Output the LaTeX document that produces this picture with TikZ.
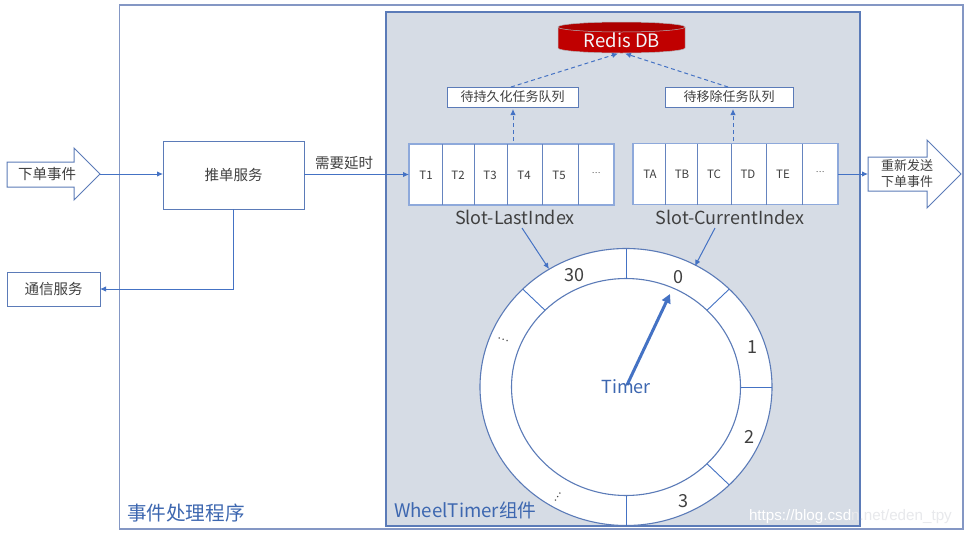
\documentclass[tikz,border=0pt]{standalone}
\usepackage{fontspec}
\setmainfont{Noto Sans CJK SC}
\newfontfamily\markfont{Liberation Sans}
\usetikzlibrary{arrows.meta,shapes.geometric}
\definecolor{frameblue}{HTML}{8497C4}
\definecolor{panelfill}{HTML}{D6DCE5}
\definecolor{edgeblue}{HTML}{5B7BB8}
\definecolor{linkblue}{HTML}{4472C4}
\definecolor{cellblue}{HTML}{8EA9DB}
\definecolor{inktext}{HTML}{404040}
\definecolor{redisred}{HTML}{C00000}
\definecolor{markgrey}{HTML}{E8E9EC}
\tikzset{
  x=1pt,y=-1pt,
  every node/.style={inner sep=0pt,outer sep=0pt,text=inktext},
  box/.style={draw=edgeblue,line width=1pt,fill=white,align=center,font=\fontsize{14.5}{17}\selectfont},
  queuebox/.style={box,font=\fontsize{13}{15}\selectfont,minimum height=20pt},
  slotrow/.style={draw=cellblue,line width=1.3pt,fill=white,minimum height=61pt,minimum width=205pt},
  cellrule/.style={draw=edgeblue!80!cellblue,line width=0.9pt},
  celltext/.style={font=\fontsize{11.5}{13}\selectfont},
  dotstext/.style={font=\fontsize{8}{10}\selectfont},
  link/.style={draw=linkblue,line width=1pt,-{Latex[length=6pt,width=5.5pt]}},
  dashlink/.style={link,dashed,dash pattern=on 4pt off 3pt},
  wheel/.style={draw=edgeblue,line width=1.1pt,fill=white},
  wheelrule/.style={draw=linkblue,line width=0.9pt},
  wheeltext/.style={font=\fontsize{18}{20}\selectfont},
  slotlabel/.style={font=\fontsize{18}{20}\selectfont},
  bluelabel/.style={text=linkblue!90!black},
}
\begin{document}
\begin{tikzpicture}
\useasboundingbox (0,0) rectangle (969,536);
\fill[white] (0,0) rectangle (969,536);
% frames
\draw[frameblue,line width=1.3pt] (119.5,5) rectangle (963,529);
\draw[edgeblue,line width=1.1pt,fill=panelfill] (386,12) rectangle (860,526);
\node[bluelabel,font=\fontsize{19.6}{22}\selectfont,anchor=west] (progLabel) at (127,513) {事件处理程序};
\node[bluelabel,font=\fontsize{18.7}{22}\selectfont,anchor=west] (compLabel) at (394,510) {WheelTimer组件};
% left arrow shape
\draw[box] (7,162) -- (74,162) -- (74,148) -- (100,174) -- (74,200) -- (74,187) -- (7,187) -- cycle;
\coordinate (orderTip) at (100,174);
\node[font=\fontsize{14.5}{17}\selectfont] (orderText) at (47,174) {下单事件};
\node[box,minimum width=141pt,minimum height=68pt] (push) at (233.5,175) {推单服务};
\node[box,minimum width=93pt,minimum height=34pt] (notify) at (53.5,289) {通信服务};
\draw[link] (orderTip) -- (orderTip -| push.west);
\draw[link] (push.south) |- (notify.east);
\node[font=\fontsize{14.5}{17}\selectfont] (needDelay) at (344,163) {需要延时};
% slot row 1
\node[slotrow] (rowA) at (511.5,174.5) {};
\foreach \xx in {442,474,507,542,578} \draw[cellrule] (\xx,144) -- (\xx,205);
\foreach \xx/\tt in {426/T1,458/T2,490/T3,524/T4,559/T5} \node[celltext] (cell\tt) at (\xx,175) {\tt};
\node[dotstext] (cellDotsA) at (596,173) {…};
\draw[link] (push.east |- rowA.west) -- (rowA.west);
% slot row 2
\node[slotrow] (rowB) at (735.5,174) {};
\foreach \xx in {665,697,731,766,802} \draw[cellrule] (\xx,143.5) -- (\xx,204.5);
\foreach \xx/\tt in {650/TA,682/TB,714/TC,748/TD,783/TE} \node[celltext] (cell\tt) at (\xx,174) {\tt};
\node[dotstext] (cellDotsB) at (820,172) {…};
\node[slotlabel] (lastLabel) at (515,217) {Slot-LastIndex};
\node[slotlabel] (curLabel) at (730,217) {Slot-CurrentIndex};
% right arrow shape
\draw[box] (868,157) -- (927,157) -- (927,140) -- (961,174) -- (927,208) -- (927,191) -- (868,191) -- cycle;
\coordinate (resendIn) at (868,174);
\node[font=\fontsize{13}{16}\selectfont,align=center] (resendText) at (907,174) {重新发送\\下单事件};
\draw[link] (rowB.east) -- (resendIn);
% queues
\node[queuebox,minimum width=131pt] (persistQ) at (512.5,97) {待持久化任务队列};
\node[queuebox,minimum width=128pt] (removeQ) at (729,97) {待移除任务队列};
\coordinate (rowAup) at (513,141);
\coordinate (persistIn) at (513,109);
\coordinate (rowBup) at (733,141);
\coordinate (removeIn) at (733,109);
\draw[dashlink] (rowAup) -- (persistIn);
\draw[dashlink] (rowBup) -- (removeIn);
% Redis
\fill[redisred] (558,27) -- (558,48) arc[start angle=180,end angle=0,x radius=63.5,y radius=5] -- (685,27) -- cycle;
\draw[draw=panelfill!60!gray,line width=0.5pt] (558,27) -- (558,48) arc[start angle=180,end angle=0,x radius=63.5,y radius=5] -- (685,27);
\draw[fill=redisred!90!black,draw=panelfill!60!gray,line width=0.5pt] (621.5,27) ellipse[x radius=63.5,y radius=5];
\node[text=panelfill!30!white,font=\fontsize{18.5}{20}\selectfont] (redis) at (622,40) {Redis DB};
\coordinate (redisL) at (618,53.5);
\coordinate (redisR) at (625,53.5);
\coordinate (persistOut) at (511,87);
\coordinate (removeOut) at (728,87);
\draw[dashlink] (persistOut) -- (redisL);
\draw[dashlink] (removeOut) -- (redisR);
% wheel
\node[wheel,ellipse,minimum width=292pt,minimum height=277pt] (outer) at (626,387) {};
\node[wheel,ellipse,minimum width=229pt,minimum height=217pt] (inner) at (626,387) {};
\draw[wheelrule] (outer.north) -- (inner.north);
\draw[wheelrule] (outer.south) -- (inner.south);
\draw[wheelrule] (outer.east) -- (inner.east);
\draw[wheelrule] (outer.north east) -- (inner.north east);
\draw[wheelrule] (outer.north west) -- (inner.north west);
\draw[wheelrule] (outer.south east) -- (inner.south east);
\node[wheeltext] (n30) at (574,275) {30};
\node[wheeltext] (n0) at (678,277) {0};
\node[wheeltext] (n1) at (752,347) {1};
\node[wheeltext] (n2) at (749,437) {2};
\node[wheeltext] (n3) at (683,501) {3};
\node[font=\fontsize{11}{13}\selectfont,rotate=-18] (dotsA) at (503,340) {…};
\node[font=\fontsize{11}{13}\selectfont,rotate=58] (dotsB) at (558,497) {…};
\coordinate (timerPivot) at (627,385);
\coordinate (timerTip) at (670,294);
\draw[draw=linkblue,line width=3pt,-{Triangle[length=9pt,width=9pt]}] (timerPivot) -- (timerTip);
\node[text=linkblue!90!black,font=\fontsize{18}{20}\selectfont] (timer) at (626,387) {Timer};
\coordinate (lastFrom) at (522,228);
\coordinate (lastTo) at (549,269);
\coordinate (curFrom) at (715,228);
\coordinate (curTo) at (695,266);
\draw[link] (lastFrom) -- (lastTo);
\draw[link] (curFrom) -- (curTo);
% watermark
\node[text=markgrey,font=\markfont\fontsize{15.2}{17}\selectfont,anchor=west] (mark) at (749,517) {\textcolor{white}{https://blog.csd}n.net/eden\_tpy};
\end{tikzpicture}
\end{document}
